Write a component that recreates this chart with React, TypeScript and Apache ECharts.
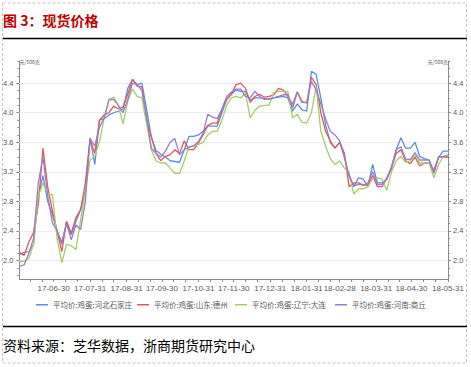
import React, { useEffect, useRef } from "react";
import * as echarts from "echarts";

const firstDay = "2017-06-01";
const lastDay = "2018-05-31";
const unitLabel = "元/500克";
const titleText = "图 3：现货价格";
const sourceText = "资料来源：芝华数据，浙商期货研究中心";

const seriesNames = [
  "平均价:鸡蛋:河北石家庄",
  "平均价:鸡蛋:山东:德州",
  "平均价:鸡蛋:辽宁:大连",
  "平均价:鸡蛋:河南:商丘",
];

const sampleDates = [
  "2017-06-01", "2017-06-05", "2017-06-09", "2017-06-13", "2017-06-17", "2017-06-21", "2017-06-25", "2017-06-29",
  "2017-07-03", "2017-07-07", "2017-07-11", "2017-07-15", "2017-07-19", "2017-07-23", "2017-07-27", "2017-07-31",
  "2017-08-04", "2017-08-08", "2017-08-12", "2017-08-16", "2017-08-20", "2017-08-24", "2017-08-28",
  "2017-09-01", "2017-09-05", "2017-09-09", "2017-09-13", "2017-09-17", "2017-09-21", "2017-09-25", "2017-09-29",
  "2017-10-03", "2017-10-07", "2017-10-11", "2017-10-15", "2017-10-19", "2017-10-23", "2017-10-27", "2017-10-31",
  "2017-11-04", "2017-11-08", "2017-11-12", "2017-11-16", "2017-11-20", "2017-11-24", "2017-11-28",
  "2017-12-02", "2017-12-06", "2017-12-10", "2017-12-14", "2017-12-18", "2017-12-22", "2017-12-26", "2017-12-30",
  "2018-01-03", "2018-01-07", "2018-01-11", "2018-01-15", "2018-01-19", "2018-01-23", "2018-01-27", "2018-01-31",
  "2018-02-04", "2018-02-08", "2018-02-12", "2018-02-16", "2018-02-20", "2018-02-24", "2018-02-28",
  "2018-03-04", "2018-03-08", "2018-03-12", "2018-03-16", "2018-03-20", "2018-03-24", "2018-03-28",
  "2018-04-01", "2018-04-05", "2018-04-09", "2018-04-13", "2018-04-17", "2018-04-21", "2018-04-25", "2018-04-29",
  "2018-05-03", "2018-05-07", "2018-05-11", "2018-05-15", "2018-05-19", "2018-05-23", "2018-05-27", "2018-05-31",
];

const hebeiShijiazhuang = [
  2.08, 2.11, 2.12, 2.22, 2.87, 3.15, 2.8, 2.62,
  2.4, 2.22, 2.52, 2.35, 2.53, 2.69, 2.95, 3.66,
  3.3, 3.9, 3.92, 3.97, 4.0, 4.02, 4.05,
  4.33, 4.45, 4.38, 4.4, 4.05, 3.67, 3.49, 3.44,
  3.4, 3.35, 3.34, 3.33, 3.5, 3.68, 3.68, 3.7,
  3.75, 3.82, 3.82, 3.82, 4.0, 4.18, 4.25,
  4.31, 4.29, 4.29, 4.17, 4.2, 4.2, 4.19, 4.18,
  4.2, 4.21, 4.22, 4.2, 4.02, 4.12, 4.04, 4.02,
  4.56, 4.52, 4.2, 3.84, 3.6, 3.52, 3.6,
  3.4, 3.14, 3.0, 3.12, 3.1, 3.0, 3.3,
  3.05, 3.05, 3.1, 3.27, 3.5, 3.66, 3.52, 3.52,
  3.6, 3.41, 3.38, 3.36, 3.2, 3.4, 3.48, 3.48,
];

const shandongDezhou = [
  2.11, 2.07, 2.25, 2.38, 2.75, 3.52, 3.0, 2.67,
  2.4, 2.12, 2.53, 2.37, 2.58, 2.69, 3.05, 3.64,
  3.45, 3.9, 3.97, 4.0, 4.09, 4.05, 4.08,
  4.25, 4.45, 4.36, 4.35, 3.9, 3.68, 3.45, 3.35,
  3.41, 3.43, 3.5, 3.45, 3.62, 3.5, 3.5, 3.59,
  3.7, 3.83, 3.86, 3.86, 4.05, 4.18, 4.25,
  4.38, 4.4, 4.33, 4.14, 4.22, 4.25, 4.21, 4.22,
  4.24, 4.33, 4.31, 4.22, 4.11, 4.28, 4.15, 4.13,
  4.48, 4.38, 4.0, 3.75, 3.62, 3.52, 3.6,
  3.45, 3.0, 3.05, 3.05, 3.02, 3.02, 3.15,
  3.0, 3.0, 3.12, 3.25, 3.45, 3.5, 3.35, 3.31,
  3.4, 3.28, 3.32, 3.32, 3.22, 3.4, 3.4, 3.4,
];

const liaoningDalian = [
  1.99, 1.99, 2.03, 2.22, 2.87, 3.05, 2.9, 2.89,
  2.3, 1.97, 2.22, 2.2, 2.15, 2.55, 2.95, 3.36,
  3.41, 3.61, 3.93, 4.18, 4.21, 4.1, 3.85,
  4.15, 4.32, 4.22, 4.2, 3.85, 3.5, 3.35, 3.32,
  3.32, 3.25, 3.18, 3.18, 3.35, 3.54, 3.55, 3.57,
  3.6, 3.7, 3.75, 3.75, 3.9, 4.1, 4.2,
  4.22, 4.2, 4.27, 3.93, 4.03, 4.09, 4.1, 4.1,
  4.27, 4.29, 4.29, 4.29, 3.93, 3.98, 3.87, 3.86,
  4.0, 4.35, 3.75, 3.55, 3.38, 3.3, 3.35,
  3.25, 3.2, 2.9, 2.97, 2.97, 3.0, 3.11,
  3.12, 3.1, 2.95, 3.2, 3.35, 3.41, 3.33, 3.35,
  3.43, 3.32, 3.32, 3.32, 3.12, 3.3, 3.41, 3.43,
];

const henanShangqiu = [
  1.92, 1.94, 2.1, 2.3, 3.05, 3.4, 2.88, 2.51,
  2.4, 2.25, 2.5, 2.28, 2.48, 2.42, 2.8, 3.65,
  3.55, 3.8, 3.93, 4.17, 4.18, 4.1, 4.0,
  4.18, 4.4, 4.38, 4.3, 3.95, 3.52, 3.45, 3.4,
  3.48, 3.6, 3.65, 3.43, 3.5, 3.53, 3.55, 3.61,
  3.72, 3.98, 3.94, 3.92, 4.05, 4.22, 4.28,
  4.32, 4.32, 4.22, 4.2, 4.29, 4.22, 4.18, 4.19,
  4.2, 4.22, 4.24, 4.25, 4.06, 4.28, 4.14, 4.14,
  4.42, 4.31, 4.12, 3.92, 3.75, 3.7, 3.62,
  3.4, 3.15, 3.01, 3.03, 3.02, 3.05, 3.2,
  3.03, 3.03, 3.1, 3.25, 3.5, 3.54, 3.37, 3.37,
  3.46, 3.36, 3.36, 3.36, 3.18, 3.4, 3.41, 3.41,
];

const yMin = 1.75;
const yMax = 4.7;
const yLabelValues = [2.0, 2.4, 2.8, 3.2, 3.6, 4.0, 4.4];
const yMinorValues = [
  1.8, 1.9, 2.0, 2.1, 2.2, 2.3, 2.4, 2.5, 2.6, 2.7, 2.8, 2.9, 3.0, 3.1, 3.2,
  3.3, 3.4, 3.5, 3.6, 3.7, 3.8, 3.9, 4.0, 4.1, 4.2, 4.3, 4.4, 4.5, 4.6, 4.7,
];

function buildDays(from: string, to: string): string[] {
  const out: string[] = [];
  const end = Date.parse(to + "T00:00:00Z");
  for (let t = Date.parse(from + "T00:00:00Z"); t <= end; t += 86400000) {
    out.push(new Date(t).toISOString().slice(0, 10));
  }
  return out;
}

export default function App() {
  const ref = useRef<HTMLDivElement>(null);

  useEffect(() => {
    if (!ref.current) return;
    const chart = echarts.init(ref.current, undefined, { renderer: "svg" });
    const days = buildDays(firstDay, lastDay);
    const isMonthEnd = (i: number) =>
      i === days.length - 1 || days[i + 1].slice(5, 7) !== days[i].slice(5, 7);
    const isTick = (i: number) => {
      const dd = Number(days[i].slice(8, 10));
      return dd === 10 || dd === 20 || isMonthEnd(i);
    };
    const font = "'Liberation Sans', 'Noto Sans CJK SC', sans-serif";
    const cjk = "'Noto Sans CJK SC', sans-serif";
    const axisColor = "#8c8c8c";
    const labelColor = "#595959";
    const colors = ["#5B8FD9", "#E0585A", "#A5CC6B", "#9A7DCB"];
    const values = [hebeiShijiazhuang, shandongDezhou, liaoningDalian, henanShangqiu];

    const yBase = {
      type: "value",
      min: yMin,
      max: yMax,
      splitLine: { show: false },
    };
    const majorY = (position: string, align: string, margin: number) => ({
      ...yBase,
      position,
      name: unitLabel,
      nameLocation: "end",
      nameGap: -3,
      nameTextStyle: {
        fontSize: 5,
        color: labelColor,
        align,
        verticalAlign: "bottom",
        fontFamily: cjk,
      },
      axisLine: { show: true, lineStyle: { color: axisColor, width: 1 } },
      axisTick: {
        show: true,
        inside: false,
        length: 3,
        customValues: yLabelValues,
        lineStyle: { color: axisColor },
      },
      axisLabel: {
        show: true,
        customValues: yLabelValues,
        fontSize: 7.5,
        color: labelColor,
        margin,
        fontFamily: font,
        formatter: (v: number) => v.toFixed(1),
      },
    });
    const minorY = (position: string) => ({
      ...yBase,
      position,
      axisLine: { show: false },
      axisTick: {
        show: true,
        inside: false,
        length: 2,
        customValues: yMinorValues,
        lineStyle: { color: axisColor },
      },
      axisLabel: { show: false },
    });

    const legendLefts = [36, 137, 235, 335];

    chart.setOption({
      animation: false,
      backgroundColor: "#ffffff",
      grid: { left: 18, right: 23, top: 61, bottom: 88, containLabel: false },
      xAxis: {
        type: "category",
        data: days,
        boundaryGap: false,
        axisLine: { show: true, lineStyle: { color: axisColor, width: 1 } },
        axisTick: {
          show: true,
          length: 3,
          interval: (i: number) => isTick(i),
          lineStyle: { color: axisColor },
        },
        axisLabel: {
          interval: (i: number) => isMonthEnd(i),
          formatter: (v: string) => v.slice(2),
          fontSize: 8,
          color: labelColor,
          margin: 5,
          fontFamily: font,
        },
        splitLine: { show: false },
      },
      yAxis: [
        majorY("left", "left", 6),
        minorY("left"),
        majorY("right", "right", 5),
        minorY("right"),
      ],
      legend: seriesNames.map((n, i) => ({
        data: [n],
        left: legendLefts[i],
        top: 301,
        icon: "rect",
        itemWidth: 12,
        itemHeight: 1.5,
        padding: 0,
        itemGap: 0,
        selectedMode: false,
        textStyle: { fontSize: 7.5, color: labelColor, fontFamily: cjk },
      })),
      series: seriesNames.map((n, i) => ({
        name: n,
        type: "line",
        xAxisIndex: 0,
        yAxisIndex: 0,
        symbol: "none",
        showSymbol: false,
        data: sampleDates.map((d, k) => [d, values[i][k]]),
        lineStyle: { width: 1.3, color: colors[i] },
        itemStyle: { color: colors[i] },
        z: 2 + i,
        markLine:
          i === 0
            ? {
                silent: true,
                symbol: ["none", "none"],
                z: 1,
                label: { show: false },
                lineStyle: { color: "#ececec", width: 1, type: "solid" },
                data: yLabelValues.map((v) => ({ yAxis: v })),
              }
            : undefined,
      })),
      graphic: [
        {
          type: "rect",
          silent: true,
          z: -1,
          shape: { x: 2.5, y: 3, width: 464, height: 360 },
          style: { fill: "none", stroke: "#c4c4c4", lineWidth: 1, lineDash: [3, 2] },
        },
        {
          type: "text",
          x: 3,
          y: 20,
          style: {
            text: titleText,
            fontSize: 14,
            fontWeight: "bold",
            fill: "#C00000",
            fontFamily: cjk,
            verticalAlign: "middle",
          },
        },
        {
          type: "line",
          shape: { x1: 3, y1: 38.5, x2: 467, y2: 38.5 },
          style: { stroke: "#000", lineWidth: 1.5 },
        },
        {
          type: "line",
          shape: { x1: 3, y1: 326.5, x2: 467, y2: 326.5 },
          style: { stroke: "#000", lineWidth: 1.5 },
        },
        {
          type: "text",
          x: 3,
          y: 345,
          style: {
            text: sourceText,
            fontSize: 14,
            fill: "#000",
            fontFamily: cjk,
            verticalAlign: "middle",
          },
        },
      ],
    });
    return () => chart.dispose();
  }, []);

  return (
    <div
      ref={ref}
      style={{ position: "absolute", left: 0, top: 0, width: 471, height: 367, background: "#fff" }}
    />
  );
}
